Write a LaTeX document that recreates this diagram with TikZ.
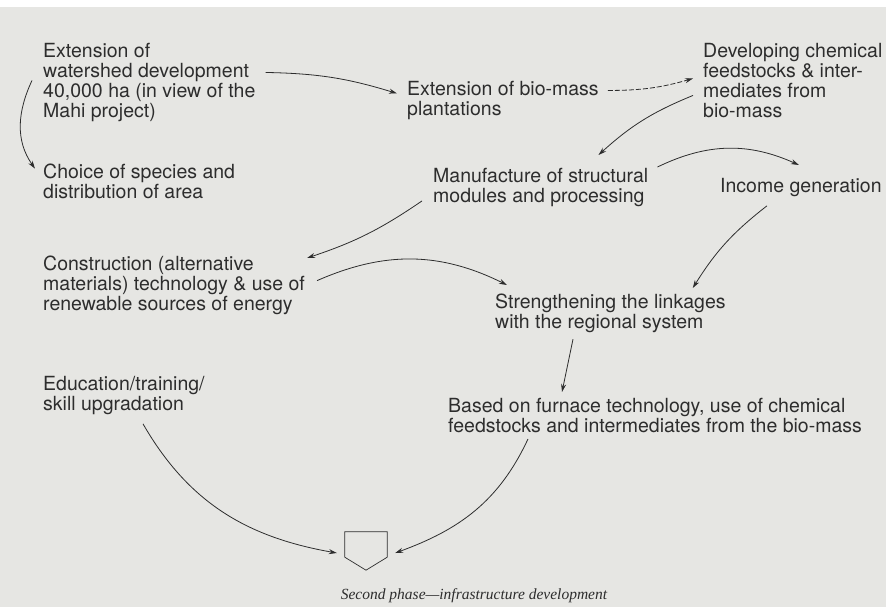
\documentclass[tikz,border=0pt]{standalone}
\usepackage{fontspec}
\setmainfont{TeX Gyre Heros}
\newfontfamily\captionserif{Liberation Serif}
\usepackage{tikz}
\usetikzlibrary{arrows.meta, positioning}
\definecolor{paper}{RGB}{230,230,227}
\definecolor{ink}{RGB}{45,45,45}
\tikzset{
    stagetext/.style={
        anchor=north west,
        inner sep=0pt,
        align=left,
        text=ink,
        font=\fontsize{19.5}{20}\selectfont
    },
    flowarrow/.style={
        -{Stealth[length=8pt, width=5pt]},
        line width=0.8pt,
        draw=ink
    },
    phasebox/.style={
        rectangle,
        inner sep=0pt,
        minimum width=42pt,
        minimum height=38pt
    },
    captiontext/.style={
        text=ink,
        inner sep=0pt,
        font=\captionserif\itshape\fontsize{15.5}{17}\selectfont
    }
}

\begin{document}
\begin{tikzpicture}[x=1pt, y=1pt]
    % paper
    \fill[paper] (0,0) rectangle (886,-607);
    \fill[white] (0,0) rectangle (886,-7);
    \useasboundingbox (0,0) rectangle (886,-607);

    \node[stagetext] (wshed) at (43,-43) {Extension of\\watershed development\\40,000 ha (in view of the\\Mahi project)};
    \node[stagetext] (species) at (43,-164) {Choice of species and\\distribution of area};
    \node[stagetext] (biomass) at (407,-81) {Extension of bio-mass\\plantations};
    \node[stagetext] (feeds) at (703,-43) {Developing chemical\\feedstocks \& inter-\\mediates from\\bio-mass};
    \node[stagetext] (manuf) at (433,-168) {Manufacture of structural\\modules and processing};
    \node[stagetext] (income) at (720,-178) {Income generation};
    \node[stagetext] (constr) at (43,-256) {Construction (alternative\\materials) technology \& use of\\renewable sources of energy};
    \node[stagetext] (linkage) at (495,-294) {Strengthening the linkages\\with the regional system};
    \node[stagetext] (educ) at (43,-376) {Education/training/\\skill upgradation};
    \node[stagetext] (furnace) at (448,-398) {Based on furnace technology, use of chemical\\feedstocks and intermediates from the bio-mass};

    \node[phasebox] (phase) at (366,-551) {};
    \draw[ink, line width=0.7pt] (phase.north west) -- (phase.north east) -- ([yshift=13pt]phase.south east)
        -- (phase.south) -- ([yshift=13pt]phase.south west) -- cycle;
    \node[captiontext] (caption) at (474,-596) {Second phase—infrastructure development};

    \draw[flowarrow] ([xshift=10pt, yshift=10pt]wshed.east) to[bend left=8] ([xshift=-10pt, yshift=7pt]biomass.west);
    \draw[flowarrow] ([xshift=-11pt, yshift=2pt]wshed.west) to[out=245, in=125] ([xshift=-8pt, yshift=13pt]species.west);
    \draw[flowarrow, dash pattern=on 5pt off 2pt] ([xshift=9pt, yshift=10pt]biomass.east) to[bend right=8] ([xshift=-10pt, yshift=2pt]feeds.west);
    \draw[flowarrow] ([xshift=-10pt, yshift=-15pt]feeds.west) to[bend right=10] ([xshift=-50pt, yshift=13pt]manuf.north east);
    \draw[flowarrow] ([xshift=9pt, yshift=1pt]manuf.north east) to[bend left=25] ([xshift=-2pt, yshift=13pt]income.north);
    \draw[flowarrow] ([xshift=-11pt, yshift=6pt]manuf.south west) to[bend left=8] ([xshift=2pt, yshift=-2pt]constr.north east);
    \draw[flowarrow] ([xshift=12pt, yshift=5pt]constr.east) to[bend left=25] ([xshift=12pt, yshift=9pt]linkage.north west);
    \draw[flowarrow] ([xshift=-34pt, yshift=-9pt]income.south) to[bend right=10] ([xshift=-33pt, yshift=6pt]linkage.north east);
    \draw[flowarrow] ([xshift=78pt, yshift=-6pt]linkage.south west) -- ([xshift=114pt, yshift=6pt]furnace.north west);
    \draw[flowarrow] ([xshift=80pt, yshift=-6pt]furnace.south west) to[out=245, in=20] ([xshift=8pt, yshift=-2pt]phase.east);
    \draw[flowarrow] ([xshift=100pt, yshift=-9pt]educ.south west) to[out=-60, in=170] ([xshift=-8pt, yshift=-2pt]phase.west);
\end{tikzpicture}
\end{document}
